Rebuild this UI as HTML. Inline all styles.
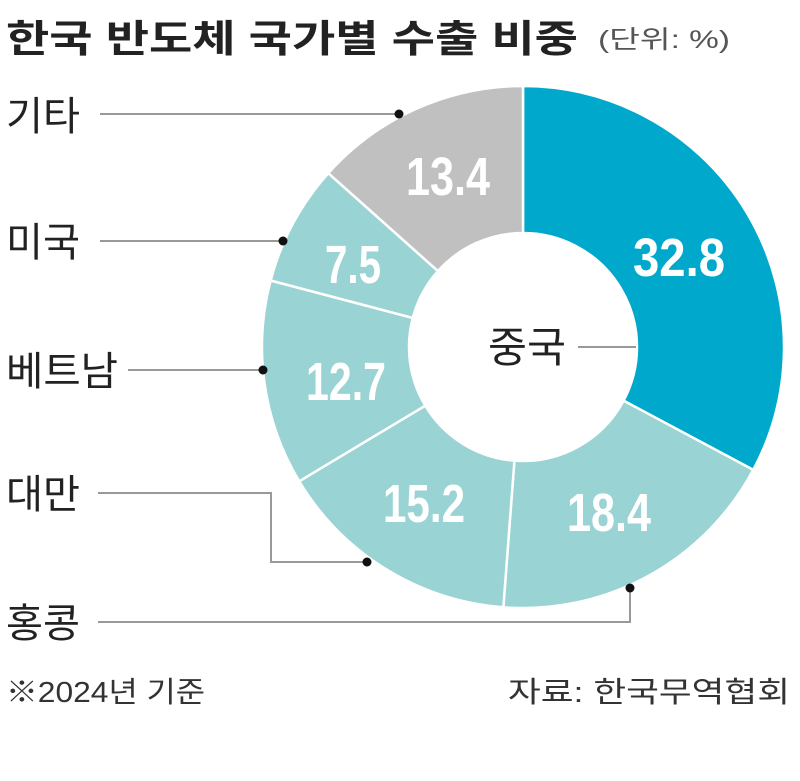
<!DOCTYPE html>
<html><head><meta charset="utf-8"><style>
html,body{margin:0;padding:0;background:#fff;}
body{width:800px;height:781px;overflow:hidden;position:relative;font-family:"Liberation Sans","Noto Sans CJK KR",sans-serif;}
</style></head><body>
<svg width="800" height="781" xmlns="http://www.w3.org/2000/svg" style="position:absolute;left:0;top:0">
<g id="segs"></g>
<g stroke="#999" stroke-width="2" fill="none">
<polyline points="100,114 399,114"/>
<polyline points="100,241 283,241"/>
<polyline points="128,370 263,370"/>
<polyline points="98,493 271,493 271,562 367,562"/>
<polyline points="98,622 630,622 630,588"/>
<line x1="578" y1="347" x2="636" y2="347"/>
</g>
<g fill="#111">
<circle cx="399" cy="114" r="4.5"/><circle cx="283" cy="241" r="4.5"/><circle cx="263" cy="370" r="4.5"/><circle cx="367" cy="562" r="4.5"/><circle cx="630" cy="588" r="4.5"/>
</g>
<g font-family="'Liberation Sans',sans-serif" font-weight="bold" font-size="54" fill="#fff" lengthAdjust="spacingAndGlyphs">
<text x="633" y="276" textLength="92" lengthAdjust="spacingAndGlyphs">32.8</text>
<text x="567" y="531" textLength="84" lengthAdjust="spacingAndGlyphs">18.4</text>
<text x="383" y="522" textLength="82" lengthAdjust="spacingAndGlyphs">15.2</text>
<text x="306" y="400" textLength="80" lengthAdjust="spacingAndGlyphs">12.7</text>
<text x="325" y="283" textLength="56" lengthAdjust="spacingAndGlyphs">7.5</text>
<text x="406" y="195" textLength="84" lengthAdjust="spacingAndGlyphs">13.4</text>
</g>
<text x="488" y="362" font-size="42" fill="#222" textLength="78" lengthAdjust="spacingAndGlyphs" font-family="'Liberation Sans','Noto Sans CJK KR',sans-serif">중국</text>
<g font-size="40" fill="#222" font-family="'Liberation Sans','Noto Sans CJK KR',sans-serif">
<text x="6" y="130" textLength="74" lengthAdjust="spacingAndGlyphs">기타</text>
<text x="6" y="256" textLength="74" lengthAdjust="spacingAndGlyphs">미국</text>
<text x="6" y="385" textLength="112" lengthAdjust="spacingAndGlyphs">베트남</text>
<text x="6" y="508" textLength="74" lengthAdjust="spacingAndGlyphs">대만</text>
<text x="6" y="637" textLength="74" lengthAdjust="spacingAndGlyphs">홍콩</text>
</g>
<text x="6" y="52" font-size="38" font-weight="bold" fill="#222" textLength="572" lengthAdjust="spacingAndGlyphs" font-family="'Liberation Sans','Noto Sans CJK KR',sans-serif">한국 반도체 국가별 수출 비중</text>
<text x="598" y="48" font-size="25" fill="#555" textLength="132" lengthAdjust="spacingAndGlyphs" font-family="'Liberation Sans','Noto Sans CJK KR',sans-serif">(단위: %)</text>
<text x="6" y="702" font-size="29" fill="#333" textLength="199" lengthAdjust="spacingAndGlyphs" font-family="'Liberation Sans','Noto Sans CJK KR',sans-serif">※2024년 기준</text>
<text x="508" y="702" font-size="29" fill="#333" textLength="282" lengthAdjust="spacingAndGlyphs" font-family="'Liberation Sans','Noto Sans CJK KR',sans-serif">자료: 한국무역협회</text>
</svg>
<script>
(function(){
var cx=523,cy=347,R=261,r=114;
var vals=[32.8,18.4,15.2,12.7,7.5,13.4];
var cols=["#00a9cc","#99d3d3","#99d3d3","#99d3d3","#99d3d3","#c0c0c0"];
var g=document.getElementById("segs"),a0=0,ns="http://www.w3.org/2000/svg";
function pt(rad,a){return [cx+rad*Math.sin(a),cy-rad*Math.cos(a)];}
for(var i=0;i<vals.length;i++){
var a1=a0+vals[i]/100*2*Math.PI;
var p1=pt(R,a0),p2=pt(R,a1),p3=pt(r,a1),p4=pt(r,a0);
var lg=(a1-a0)>Math.PI?1:0;
var d="M"+p1+"A"+R+","+R+" 0 "+lg+" 1 "+p2+"L"+p3+"A"+r+","+r+" 0 "+lg+" 0 "+p4+"Z";
var p=document.createElementNS(ns,"path");
p.setAttribute("d",d);p.setAttribute("fill",cols[i]);p.setAttribute("stroke","#fff");p.setAttribute("stroke-width","2.5");
g.appendChild(p);a0=a1;}
})();
</script>
</body></html>
